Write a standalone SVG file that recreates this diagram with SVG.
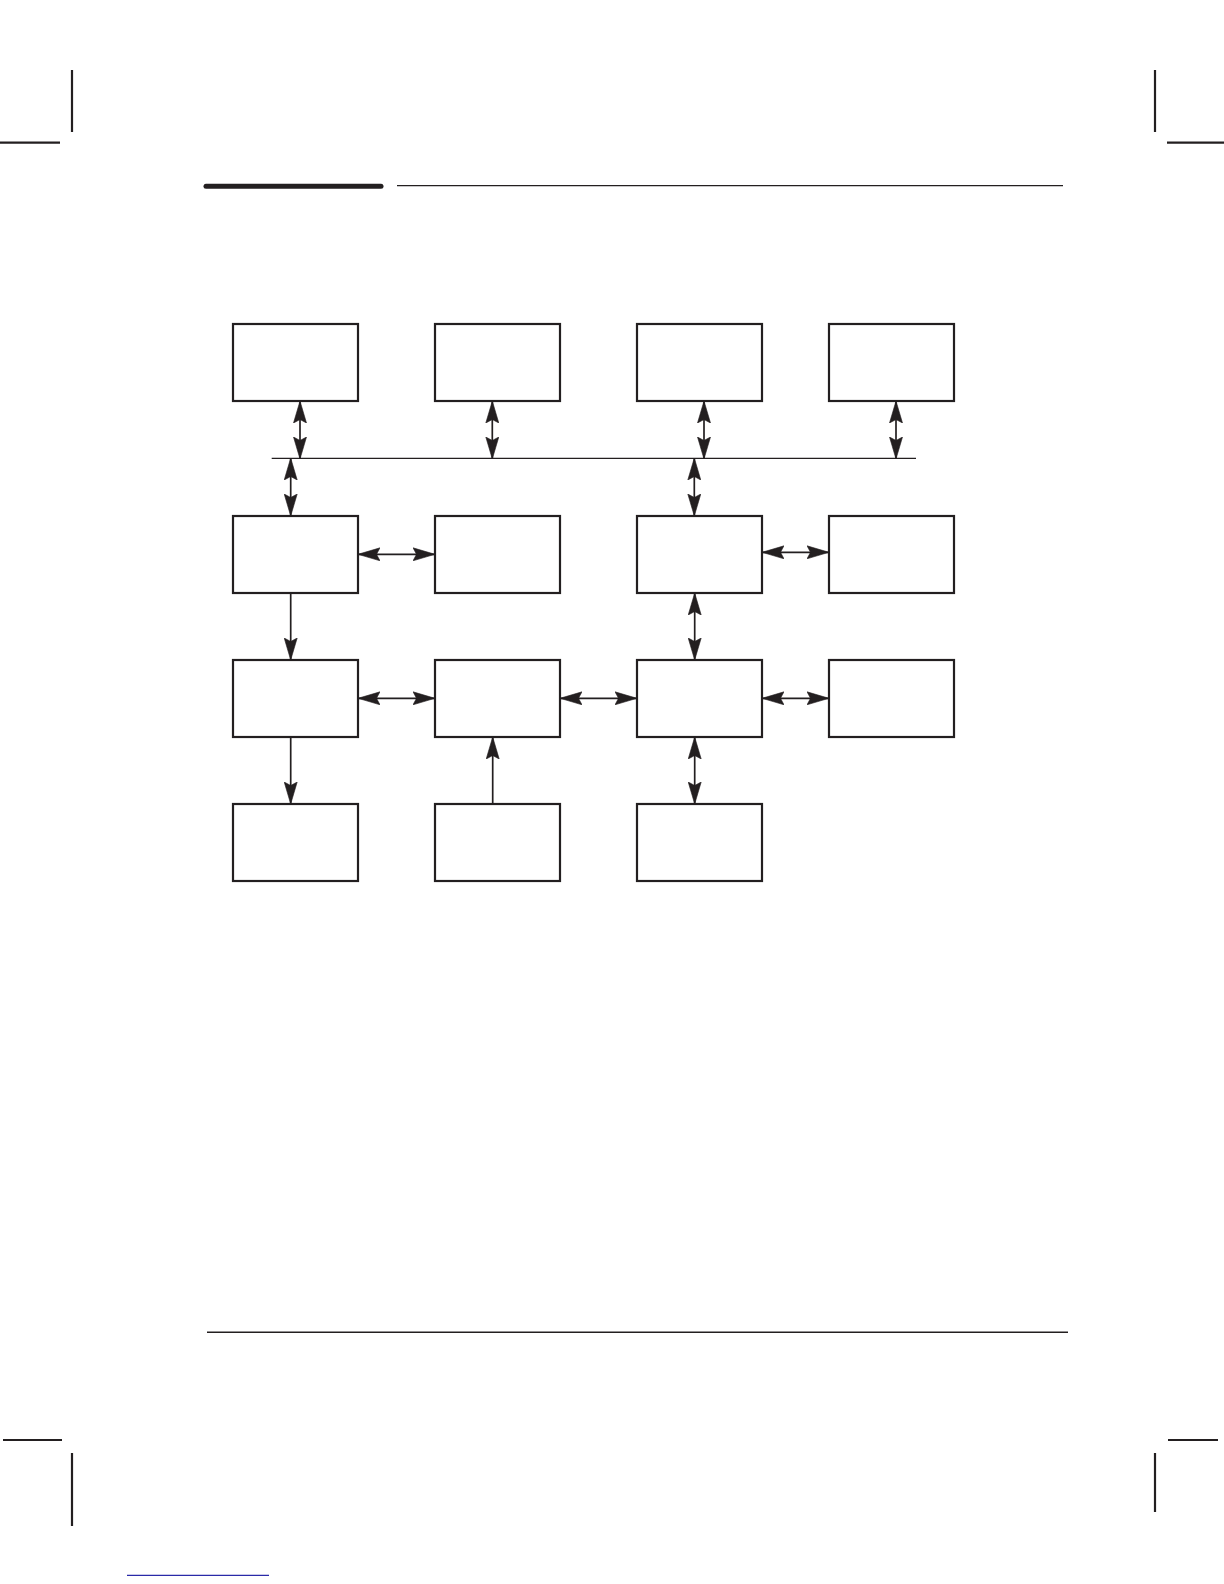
<svg xmlns="http://www.w3.org/2000/svg" width="1224" height="1584" viewBox="0 0 1224 1584">
<style>
.box{fill:#fff;stroke:#231f20;stroke-width:2.2}
.c{fill:none;stroke:#231f20;stroke-width:1.7}
.bi{marker-start:url(#ah);marker-end:url(#ah)}
.one{marker-end:url(#ah)}
.mark{stroke:#231f20;stroke-width:2.2;fill:none}
</style>
<defs>
<marker id="ah" markerUnits="userSpaceOnUse" viewBox="0 0 22 14" markerWidth="22" markerHeight="14" refX="21" refY="7" orient="auto-start-reverse">
<path d="M0,0.5 L22,7 L0,13.5 L3.5,7 Z" fill="#231f20" stroke="#231f20" stroke-width="0.6" stroke-linejoin="miter"/>
</marker>
</defs>
<rect width="1224" height="1584" fill="#fff"/>
<g id="page-marks">
<line class="mark" x1="72" y1="70" x2="72" y2="132"/>
<line class="mark" x1="0" y1="142.7" x2="60" y2="142.7"/>
<line class="mark" x1="1155" y1="70" x2="1155" y2="132"/>
<line class="mark" x1="1167" y1="142.7" x2="1224" y2="142.7"/>
<line class="mark" x1="3" y1="1440" x2="62" y2="1440"/>
<line class="mark" x1="72" y1="1453" x2="72" y2="1526"/>
<line class="mark" x1="1168" y1="1440" x2="1218" y2="1440"/>
<line class="mark" x1="1155" y1="1453" x2="1155" y2="1512"/>
<line x1="206" y1="186.3" x2="381" y2="186.3" stroke="#231f20" stroke-width="5" stroke-linecap="round"/>
<line x1="397" y1="185.7" x2="1063" y2="185.7" stroke="#231f20" stroke-width="1.2"/>
<line x1="207" y1="1332.3" x2="1068" y2="1332.3" stroke="#231f20" stroke-width="1.4"/>
<line x1="127" y1="1575.3" x2="269" y2="1575.3" stroke="#2a2aa8" stroke-width="1.2"/>
</g>
<g id="n1"><rect class="box" x="233" y="324" width="125" height="77"/></g>
<g id="n2"><rect class="box" x="435" y="324" width="125" height="77"/></g>
<g id="n3"><rect class="box" x="637" y="324" width="125" height="77"/></g>
<g id="n4"><rect class="box" x="829" y="324" width="125" height="77"/></g>
<g id="n5"><rect class="box" x="233" y="516" width="125" height="77"/></g>
<g id="n6"><rect class="box" x="435" y="516" width="125" height="77"/></g>
<g id="n7"><rect class="box" x="637" y="516" width="125" height="77"/></g>
<g id="n8"><rect class="box" x="829" y="516" width="125" height="77"/></g>
<g id="n9"><rect class="box" x="233" y="660" width="125" height="77"/></g>
<g id="n10"><rect class="box" x="435" y="660" width="125" height="77"/></g>
<g id="n11"><rect class="box" x="637" y="660" width="125" height="77"/></g>
<g id="n12"><rect class="box" x="829" y="660" width="125" height="77"/></g>
<g id="n13"><rect class="box" x="233" y="804" width="125" height="77"/></g>
<g id="n14"><rect class="box" x="435" y="804" width="125" height="77"/></g>
<g id="n15"><rect class="box" x="637" y="804" width="125" height="77"/></g>
<g id="connectors">
<line x1="271.7" y1="458.3" x2="916" y2="458.3" stroke="#231f20" stroke-width="1.2"/>
<line class="c bi" x1="300" y1="402" x2="300" y2="458"/>
<line class="c bi" x1="492.3" y1="402" x2="492.3" y2="458"/>
<line class="c bi" x1="704" y1="402" x2="704" y2="458"/>
<line class="c bi" x1="896" y1="402" x2="896" y2="458"/>
<line class="c bi" x1="290.7" y1="459" x2="290.7" y2="515"/>
<line class="c bi" x1="694.3" y1="459" x2="694.3" y2="515"/>
<line class="c bi" x1="359" y1="554.3" x2="434" y2="554.3"/>
<line class="c bi" x1="763" y1="552.3" x2="828" y2="552.3"/>
<line class="c one" x1="290.7" y1="594" x2="290.7" y2="659"/>
<line class="c bi" x1="694.7" y1="594" x2="694.7" y2="659"/>
<line class="c bi" x1="359" y1="698.3" x2="434" y2="698.3"/>
<line class="c bi" x1="561" y1="698.3" x2="636" y2="698.3"/>
<line class="c bi" x1="763" y1="698.3" x2="828" y2="698.3"/>
<line class="c one" x1="290.7" y1="738" x2="290.7" y2="803"/>
<line class="c one" x1="492.7" y1="803" x2="492.7" y2="738"/>
<line class="c bi" x1="694.7" y1="738" x2="694.7" y2="803"/>
</g>
</svg>
